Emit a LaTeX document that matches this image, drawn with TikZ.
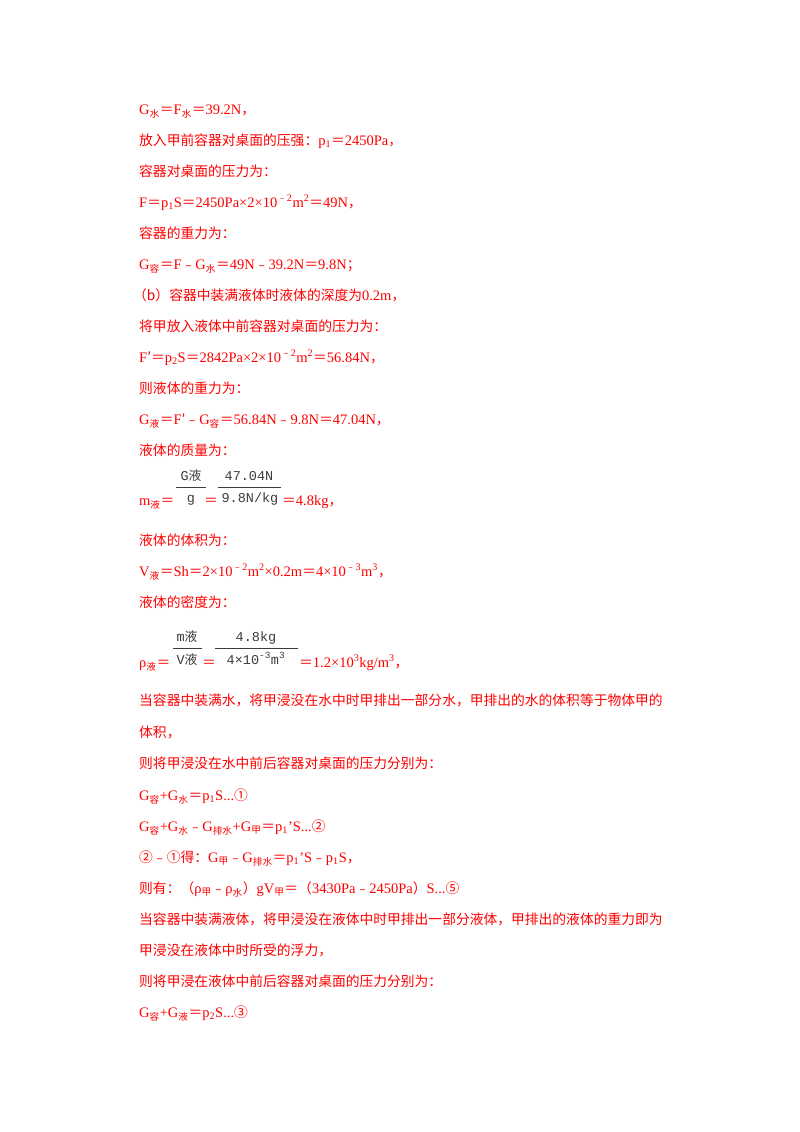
\documentclass[tikz,border=0pt]{standalone}
\usepackage{fontspec}
\setmainfont{Liberation Serif}
\newfontfamily\cjk[Scale=0.95]{Noto Sans CJK SC}
\newfontfamily\fracfont{Liberation Mono}
\newcommand{\zh}[1]{{\cjk #1}}
\newcommand{\zs}[1]{\textsubscript{\zh{#1}}}
\newcommand{\zminus}{\zh{﹣}}
\definecolor{txtred}{RGB}{255,0,0}
\definecolor{imggray}{RGB}{60,60,60}
\begin{document}
\begin{tikzpicture}
    [
    x=1pt,y=-1pt,
    line/.style={anchor=base west,inner sep=0pt,text=txtred,font=\fontsize{14.5}{14.5}\selectfont},
    frac/.style={anchor=base,inner sep=0pt,text=imggray,font=\fontsize{13.5}{13.5}\fracfont},
    bar/.style={draw=imggray,line width=0.6pt}
    ]
    \useasboundingbox (0,0) rectangle (800,1132);
    \node (l1) at (139,114) [line] {G\zs{水}\zh{＝}F\zs{水}\zh{＝}39.2N\zh{，}};
    \node (l2) at (139,145) [line] {\zh{放入甲前容器对桌面的压强：}p\textsubscript{1}\zh{＝}2450Pa\zh{，}};
    \node (l3) at (139,176) [line] {\zh{容器对桌面的压力为：}};
    \node (l4) at (139,207) [line] {F\zh{＝}p\textsubscript{1}S\zh{＝}2450Pa×2×10\textsuperscript{\zminus2}m\textsuperscript{2}\zh{＝}49N\zh{，}};
    \node (l5) at (139,238) [line] {\zh{容器的重力为：}};
    \node (l6) at (139,269) [line] {G\zs{容}\zh{＝}F\zminus G\zs{水}\zh{＝}49N\zminus 39.2N\zh{＝}9.8N\zh{；}};
    \node (l7) at (133,300) [line] {\zh{（b）容器中装满液体时液体的深度为}0.2m\zh{，}};
    \node (l8) at (139,331) [line] {\zh{将甲放入液体中前容器对桌面的压力为：}};
    \node (l9) at (139,362) [line] {F\zh{′}\zh{＝}p\textsubscript{2}S\zh{＝}2842Pa×2×10\textsuperscript{\zminus2}m\textsuperscript{2}\zh{＝}56.84N\zh{，}};
    \node (l10) at (139,393) [line] {\zh{则液体的重力为：}};
    \node (l11) at (139,424) [line] {G\zs{液}\zh{＝}F\zh{′}\zminus G\zs{容}\zh{＝}56.84N\zminus 9.8N\zh{＝}47.04N\zh{，}};
    \node (l12) at (139,455) [line] {\zh{液体的质量为：}};
    % mass fraction
    \node (m1) at (139,505) [line] {m\zs{液}\zh{＝}};
    \node (m2) at (191,480) [frac] {G\zh{液}};
    \node (m3) at (191,502) [frac] {g};
    \node (m4) at (204,505) [line] {\zh{＝}};
    \node (m5) at (249,480) [frac] {47.04N};
    \node (m6) at (250,502) [frac] {9.8N/kg};
    \node (m7) at (282,505) [line] {\zh{＝}4.8kg\zh{，}};
    \draw [bar] (176,487) -- (206,487);
    \draw [bar] (218,487) -- (281,487);
    \node (l13) at (139,545) [line] {\zh{液体的体积为：}};
    \node (l14) at (139,576) [line] {V\zs{液}\zh{＝}Sh\zh{＝}2×10\textsuperscript{\zminus2}m\textsuperscript{2}×0.2m\zh{＝}4×10\textsuperscript{\zminus3}m\textsuperscript{3}\zh{，}};
    \node (l15) at (139,607) [line] {\zh{液体的密度为：}};
    % density fraction
    \node (r1) at (139,667) [line] {ρ\zs{液}\zh{＝}};
    \node (r2) at (187,641) [frac] {m\zh{液}};
    \node (r3) at (187,664) [frac] {V\zh{液}};
    \node (r4) at (202,667) [line] {\zh{＝}};
    \node (r5) at (256,641) [frac] {4.8kg};
    \node (r6) at (256,664) [frac] {4×10\textsuperscript{-3}m\textsuperscript{3}};
    \node (r7) at (299,667) [line] {\zh{＝}1.2×10\textsuperscript{3}kg/m\textsuperscript{3}\zh{，}};
    \draw [bar] (173,648) -- (202,648);
    \draw [bar] (215,648) -- (298,648);
    \node (l16) at (139,705) [line] {\zh{当容器中装满水，将甲浸没在水中时甲排出一部分水，甲排出的水的体积等于物体甲的}};
    \node (l17) at (139,737) [line] {\zh{体积，}};
    \node (l18) at (139,768) [line] {\zh{则将甲浸没在水中前后容器对桌面的压力分别为：}};
    \node (l19) at (139,800) [line] {G\zs{容}+G\zs{水}\zh{＝}p\textsubscript{1}S...\zh{①}};
    \node (l20) at (139,831) [line] {G\zs{容}+G\zs{水}\zminus G\zs{排水}+G\zs{甲}\zh{＝}p\textsubscript{1}'S...\zh{②}};
    \node (l21) at (139,862) [line] {\zh{②﹣①得：}G\zs{甲}\zminus G\zs{排水}\zh{＝}p\textsubscript{1}'S\zminus p\textsubscript{1}S\zh{，}};
    \node (l22) at (139,893) [line] {\zh{则有：（}ρ\zs{甲}\zminus ρ\zs{水}\zh{）}gV\zs{甲}\zh{＝（}3430Pa\zminus 2450Pa\zh{）}S...\zh{⑤}};
    \node (l23) at (139,924) [line] {\zh{当容器中装满液体，将甲浸没在液体中时甲排出一部分液体，甲排出的液体的重力即为}};
    \node (l24) at (139,955) [line] {\zh{甲浸没在液体中时所受的浮力，}};
    \node (l25) at (139,986) [line] {\zh{则将甲浸在液体中前后容器对桌面的压力分别为：}};
    \node (l26) at (139,1017) [line] {G\zs{容}+G\zs{液}\zh{＝}p\textsubscript{2}S...\zh{③}};
\end{tikzpicture}
\end{document}
